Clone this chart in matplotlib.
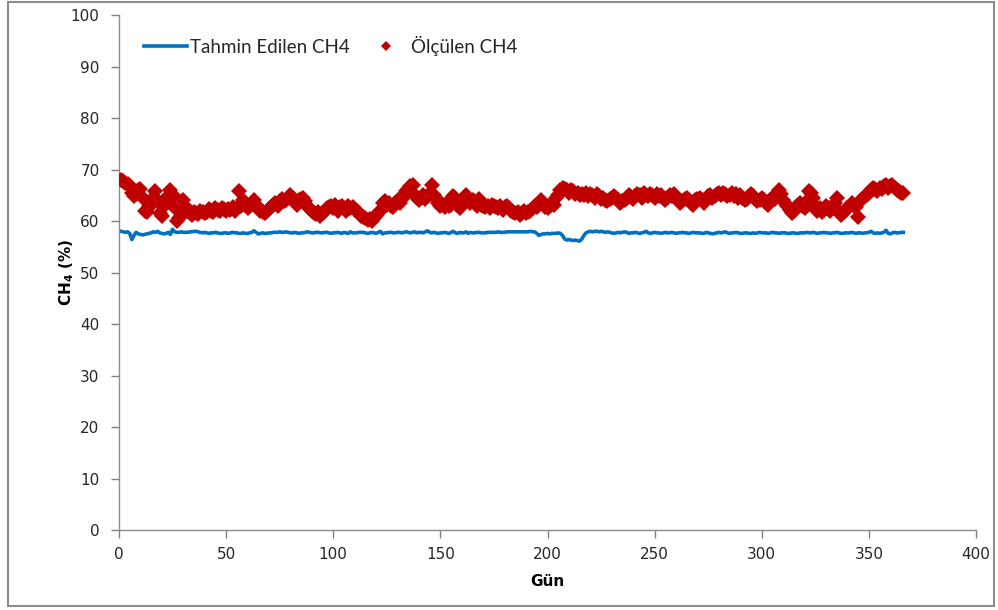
import matplotlib
matplotlib.use("Agg")
import matplotlib.pyplot as plt
from matplotlib.patches import Rectangle

# Daily measured CH4 (%) for days 1..366
measured_ch4 = [
    68.0, 67.8, 67.4, 67.2, 66.8, 65.5, 64.8, 65.2, 66.0, 66.3,
    64.5, 62.0, 61.8, 63.0, 64.0, 63.5, 65.8, 63.8, 61.5, 61.0,
    63.0, 64.5, 63.8, 66.0, 65.0, 62.5, 60.0, 60.5, 61.0, 64.0,
    63.0, 62.0, 61.5, 61.2, 61.8, 61.5, 61.3, 62.0, 61.8, 61.5,
    61.8, 62.3, 62.0, 61.8, 62.5, 62.2, 62.0, 62.6, 62.3, 62.0,
    62.4, 62.2, 62.8, 62.0, 62.5, 65.8, 63.0, 64.0, 63.2, 62.5,
    63.0, 63.5, 64.0, 63.2, 62.8, 62.0, 61.8, 61.5, 62.0, 62.3,
    62.8, 63.2, 63.5, 63.0, 63.8, 64.2, 63.8, 64.0, 64.5, 65.0,
    64.5, 63.8, 63.2, 64.0, 64.3, 64.5, 63.8, 62.8, 62.3, 62.0,
    61.5, 61.3, 61.8, 61.0, 61.5, 62.0, 62.5, 62.8, 63.0, 62.5,
    63.2, 62.0, 62.8, 63.0, 62.5, 62.0, 63.0, 62.5, 62.8, 62.2,
    62.0, 61.5, 61.0, 60.8, 60.5, 60.2, 60.3, 60.0, 60.5, 61.0,
    61.5, 62.0, 63.5, 63.8, 63.2, 63.5, 63.0, 62.8, 63.5, 64.0,
    63.5, 64.2, 65.0, 65.8, 66.2, 66.8, 67.0, 65.0, 64.5, 64.0,
    64.5, 65.0, 64.2, 64.8, 65.5, 67.0, 65.0, 64.5, 63.5, 63.0,
    63.2, 62.8, 63.5, 63.0, 63.2, 64.8, 64.5, 63.0, 62.5, 63.8,
    64.0, 65.0, 64.2, 63.5, 64.0, 63.5, 63.0, 64.2, 63.2, 63.0,
    62.8, 63.0, 62.5, 63.2, 63.0, 62.8, 62.5, 63.0, 62.2, 62.8,
    63.0, 62.5, 62.0, 61.8, 61.5, 61.8, 61.2, 61.5, 62.0, 61.5,
    61.8, 62.0, 62.5, 63.0, 62.8, 63.5, 64.0, 63.5, 62.8, 62.5,
    63.0, 63.5, 63.2, 64.5, 65.0, 66.0, 66.5, 66.3, 66.0, 65.5,
    66.0, 65.8, 65.2, 65.5, 65.0, 65.3, 65.0, 65.5, 64.8, 65.2,
    65.0, 64.5, 65.2, 64.8, 64.2, 64.5, 64.0, 63.8, 64.2, 64.5,
    64.8, 64.5, 64.0, 63.5, 63.8, 64.0, 64.5, 65.0, 64.6, 64.2,
    64.8, 65.2, 65.0, 64.5, 65.5, 65.0, 64.8, 65.3, 65.0, 64.5,
    65.2, 64.8, 65.0, 64.5, 64.0, 64.5, 65.0, 64.8, 65.2, 64.5,
    64.0, 63.5, 63.8, 64.2, 64.5, 64.0, 63.5, 63.2, 64.0, 64.2,
    64.5, 64.0, 63.5, 64.2, 64.8, 65.0, 64.5, 64.8, 65.2, 65.5,
    65.0, 65.5, 65.2, 64.8, 65.0, 65.5, 64.8, 65.2, 64.5, 65.0,
    64.5, 64.0, 64.3, 64.8, 65.2, 64.8, 64.2, 63.8, 64.0, 64.5,
    64.0, 63.5, 63.2, 64.0, 64.5, 64.2, 65.0, 66.0, 65.3, 64.0,
    63.5, 63.0, 62.2, 61.5, 62.0, 62.8, 63.2, 63.5, 63.0, 62.5,
    63.8, 65.8, 65.5, 64.5, 63.0, 62.0, 62.5, 61.8, 62.2, 63.0,
    62.5, 62.0, 62.8, 63.5, 64.5, 62.0, 61.2, 61.5, 62.0, 62.5,
    63.0, 63.5, 63.0, 62.8, 60.8, 63.8, 64.2, 64.8, 65.0, 65.5,
    66.0, 66.5, 66.2, 65.8, 66.5, 66.2, 66.8, 67.0, 66.5, 66.8,
    67.0, 66.5, 66.0, 65.8, 65.5, 65.5,
]

# Daily predicted CH4 (%) for days 1..366
predicted_ch4 = [
    58.0, 57.9, 57.8, 57.9, 57.6, 56.4, 57.2, 57.8, 57.5, 57.4,
    57.3, 57.4, 57.5, 57.6, 57.7, 57.9, 57.8, 58.0, 57.7, 57.6,
    57.5, 57.6, 57.8, 57.4, 58.4, 57.9, 57.8, 57.8, 57.9, 57.8,
    57.8, 57.8, 57.9, 57.9, 58.0, 58.0, 57.9, 57.8, 57.7, 57.8,
    57.7, 57.6, 57.7, 57.7, 57.8, 57.7, 57.6, 57.6, 57.7, 57.7,
    57.6, 57.7, 57.8, 57.7, 57.7, 57.6, 57.6, 57.7, 57.6, 57.6,
    57.7, 57.8, 58.1, 57.8, 57.5, 57.6, 57.7, 57.6, 57.6, 57.7,
    57.7, 57.8, 57.8, 57.8, 57.9, 57.8, 57.8, 57.9, 57.8, 57.7,
    57.7, 57.8, 57.7, 57.6, 57.7, 57.7, 57.8, 57.9, 57.8, 57.7,
    57.7, 57.8, 57.8, 57.7, 57.7, 57.8, 57.8, 57.7, 57.6, 57.7,
    57.7, 57.8, 57.7, 57.6, 57.8, 57.7, 57.6, 57.9, 57.7, 57.7,
    57.7, 57.8, 57.8, 57.8, 57.7, 57.6, 57.7, 57.8, 57.7, 57.6,
    57.8, 58.0, 57.5, 57.7, 57.7, 57.8, 57.8, 57.7, 57.7, 57.8,
    57.8, 57.7, 57.8, 57.9, 57.8, 57.7, 57.8, 57.9, 57.7, 57.8,
    57.8, 57.7, 57.9, 58.1, 57.8, 57.7, 57.8, 57.7, 57.6, 57.7,
    57.7, 57.8, 57.7, 57.6, 57.8, 58.0, 57.7, 57.6, 57.8, 57.7,
    57.7, 57.9, 57.6, 57.8, 57.7, 57.7, 57.8, 57.8, 57.7, 57.7,
    57.7, 57.8, 57.8, 57.8, 57.8, 57.8, 57.9, 57.8, 57.8, 57.8,
    57.9, 57.9, 57.9, 57.9, 57.9, 57.9, 57.9, 57.9, 57.9, 57.9,
    57.9, 58.0, 57.9, 57.9, 57.6, 57.2, 57.4, 57.5, 57.5, 57.6,
    57.5, 57.6, 57.6, 57.6, 57.7, 57.6, 57.2, 56.5, 56.3, 56.4,
    56.3, 56.2, 56.3, 56.2, 56.1, 56.5, 57.2, 57.7, 57.9, 58.0,
    57.9, 58.0, 58.0, 57.9, 58.0, 57.9, 57.8, 57.9, 57.8, 57.7,
    57.6, 57.7, 57.8, 57.7, 57.8, 57.9, 57.8, 57.6, 57.7, 57.7,
    57.8, 57.7, 57.6, 57.7, 57.8, 58.0, 57.7, 57.6, 57.7, 57.8,
    57.7, 57.7, 57.6, 57.7, 57.8, 57.7, 57.7, 57.8, 57.7, 57.6,
    57.7, 57.7, 57.8, 57.7, 57.7, 57.6, 57.7, 57.8, 57.7, 57.7,
    57.7, 57.6, 57.6, 57.8, 57.7, 57.6, 57.5, 57.6, 57.7, 57.8,
    57.7, 57.8, 57.9, 57.7, 57.6, 57.7, 57.7, 57.8, 57.7, 57.6,
    57.6, 57.7, 57.7, 57.6, 57.6, 57.7, 57.6, 57.7, 57.8, 57.7,
    57.7, 57.7, 57.6, 57.7, 57.8, 57.7, 57.7, 57.6, 57.7, 57.7,
    57.7, 57.6, 57.6, 57.7, 57.7, 57.6, 57.6, 57.7, 57.7, 57.7,
    57.8, 57.7, 57.7, 57.8, 57.7, 57.6, 57.7, 57.7, 57.8, 57.7,
    57.7, 57.6, 57.7, 57.7, 57.8, 57.7, 57.6, 57.6, 57.7, 57.7,
    57.7, 57.8, 57.7, 57.6, 57.7, 57.7, 57.6, 57.7, 57.7, 57.8,
    58.0, 57.7, 57.6, 57.7, 57.6, 57.7, 57.8, 58.2, 57.6, 57.5,
    57.7, 57.8, 57.7, 57.7, 57.8, 57.8,
]

days = list(range(1, len(measured_ch4) + 1))

x_ticks = [0, 50, 100, 150, 200, 250, 300, 350, 400]
y_ticks = [0, 10, 20, 30, 40, 50, 60, 70, 80, 90, 100]

plt.rcParams['font.family'] = ['DejaVu Sans']

fig = plt.figure(figsize=(9.98, 6.10), dpi=100)
ax = fig.add_axes([0.1192, 0.1311, 0.8588, 0.8443])

# Outer chart frame
fig.patches.append(Rectangle((0.008, 0.006), 0.988, 0.99, transform=fig.transFigure,
                             fill=False, edgecolor='#8c8c8c', linewidth=1.5))

ax.plot(days, predicted_ch4, color='#0070C0', linewidth=2.6, label='Tahmin Edilen CH4', zorder=2)
ax.plot(days, measured_ch4, linestyle='none', marker='D', markersize=8,
        color='#C00000', markeredgewidth=0, label='Ölçülen CH4', zorder=3)

ax.set_xlim(0, 400)
ax.set_ylim(0, 100)
ax.set_xticks(x_ticks)
ax.set_yticks(y_ticks)
ax.tick_params(axis='both', colors='#808080', labelcolor='#262626',
               direction='out', length=6, width=1)
ax.tick_params(axis='x', pad=6)
ax.tick_params(axis='y', pad=8)
for lbl in ax.get_xticklabels() + ax.get_yticklabels():
    lbl.set_fontfamily('DejaVu Sans')
    lbl.set_fontsize(11)

for side in ('top', 'right'):
    ax.spines[side].set_visible(False)
for side in ('left', 'bottom'):
    ax.spines[side].set_color('#8c8c8c')
    ax.spines[side].set_linewidth(1.0)

ax.set_xlabel('Gün', fontsize=11, fontweight='bold', family='DejaVu Sans', labelpad=9)
ax.set_ylabel('CH$_\\mathbf{4}$ (%)', fontsize=11, fontweight='bold', family='DejaVu Sans',
              labelpad=-4)

leg = ax.legend(loc='upper left', ncol=2, frameon=False,
                prop={'family': 'Lato', 'size': 13.5},
                bbox_to_anchor=(0.014, 0.985), handlelength=2.3, columnspacing=0.8,
                handletextpad=0.15, borderaxespad=0.3, markerscale=0.7)
for txt in leg.get_texts():
    txt.set_color('#262626')

fig.savefig('out.png', dpi=100, facecolor='white')
